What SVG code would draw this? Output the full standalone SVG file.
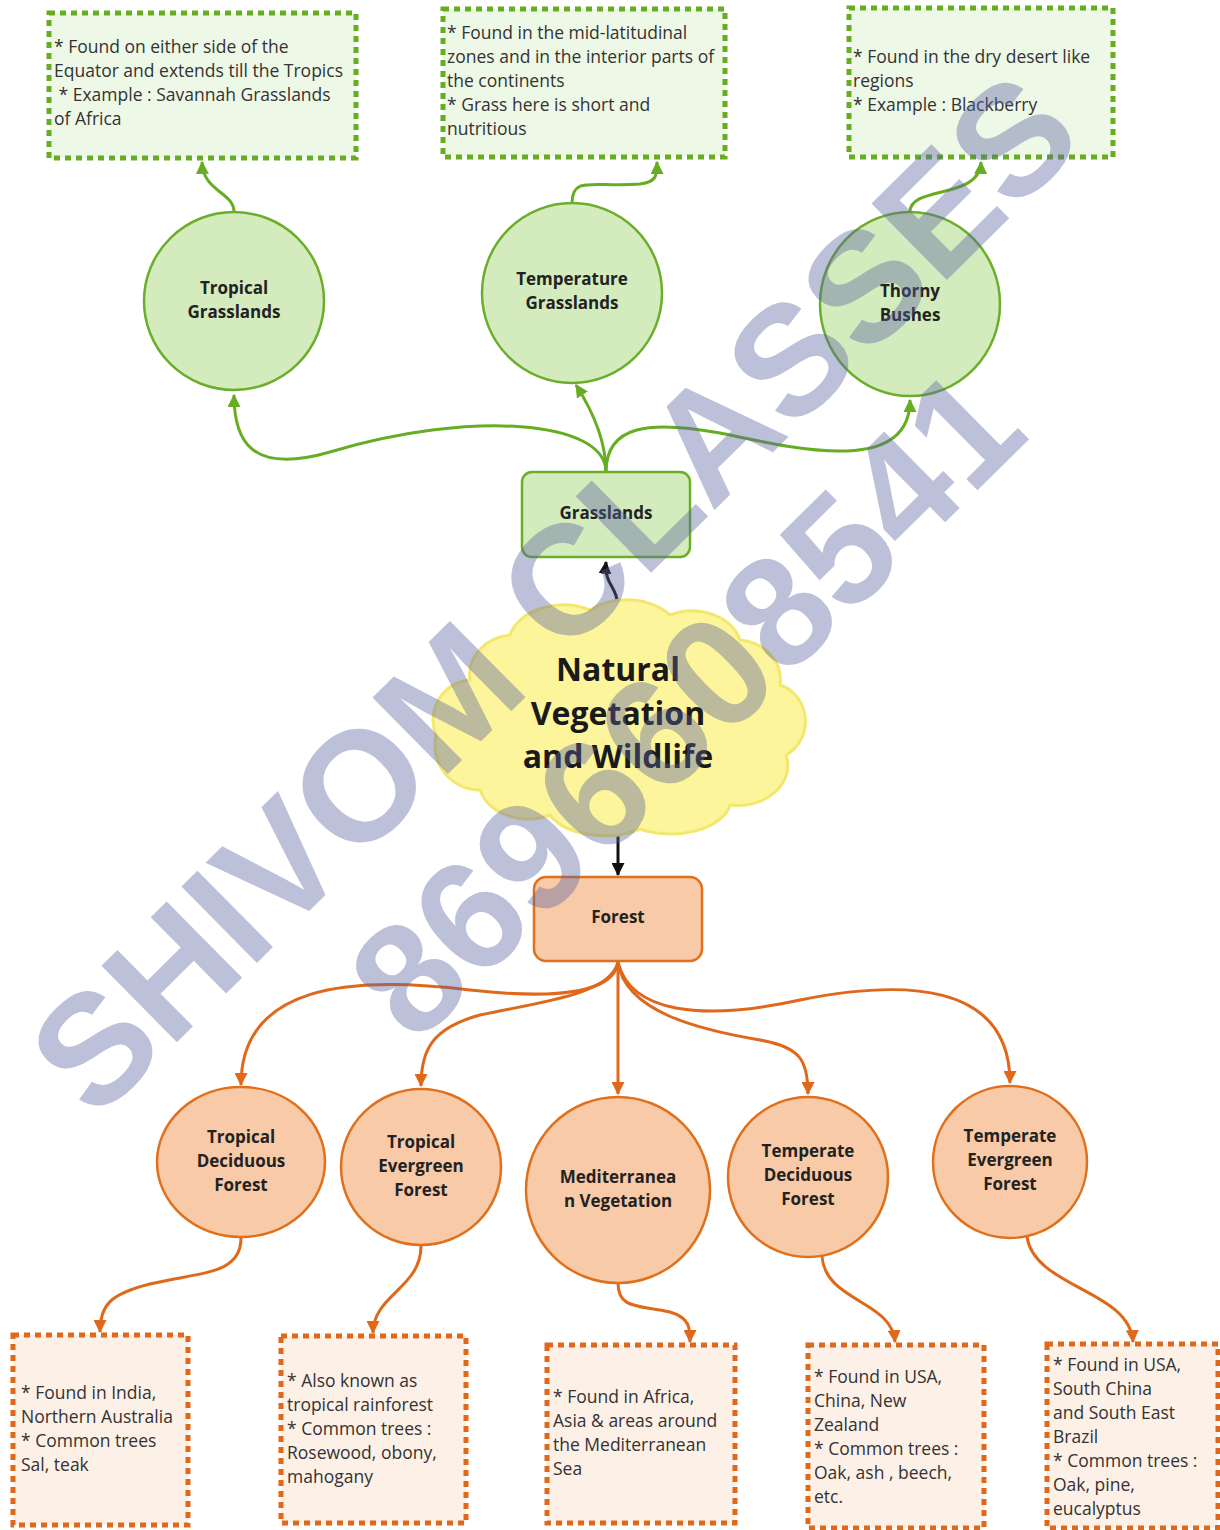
<svg xmlns="http://www.w3.org/2000/svg" width="1220" height="1530" viewBox="0 0 1220 1530">
<defs>
<style>
.t{font-family:"Open Sans","Liberation Sans",sans-serif;font-size:17.5px;fill:#333;}
.b{font-family:"Open Sans","Liberation Sans",sans-serif;font-size:17px;font-weight:bold;fill:#222;text-anchor:middle;}
.gbox{fill:#eef8e6;stroke:#66ad22;stroke-width:5;stroke-dasharray:6 5;}
.obox{fill:#fdf0e6;stroke:#e0681a;stroke-width:5;stroke-dasharray:6 5;}
.gc{fill:#d4ebbd;stroke:#6aae2a;stroke-width:2.5;}
.oc{fill:#f8caa8;stroke:#e0701c;stroke-width:2.5;}
.gl{fill:none;stroke:#66ad22;stroke-width:3;}
.ol{fill:none;stroke:#e0681a;stroke-width:3;}
.kl{fill:none;stroke:#111;stroke-width:3;}
</style>
<marker id="ag" viewBox="0 0 12 12" refX="11" refY="6" markerWidth="13" markerHeight="13" markerUnits="userSpaceOnUse" orient="auto"><path d="M0,0 L12,6 L0,12 Z" fill="#66ad22"/></marker>
<marker id="ao" viewBox="0 0 12 12" refX="11" refY="6" markerWidth="13" markerHeight="13" markerUnits="userSpaceOnUse" orient="auto"><path d="M0,0 L12,6 L0,12 Z" fill="#e0681a"/></marker>
<marker id="ak" viewBox="0 0 12 12" refX="11" refY="6" markerWidth="13" markerHeight="13" markerUnits="userSpaceOnUse" orient="auto"><path d="M0,0 L12,6 L0,12 Z" fill="#111"/></marker>
</defs>
<rect width="1220" height="1530" fill="#fff"/>

<g id="connectors">
<path class="gl" marker-end="url(#ag)" d="M606,472 C606,420 470,410 330,452 C250,475 234,440 234,395"/>
<path class="gl" marker-end="url(#ag)" d="M606,472 C606,440 592,410 576,385"/>
<path class="gl" marker-end="url(#ag)" d="M606,472 C606,425 650,420 720,433 C800,450 910,475 910,400"/>
<path class="gl" marker-end="url(#ag)" d="M234,212 C234,192 203,192 202,162"/>
<path class="gl" marker-end="url(#ag)" d="M572,203 C572,175 595,188 640,184 C657,182 657,175 657,162"/>
<path class="gl" marker-end="url(#ag)" d="M910,212 C910,185 980,200 981,162"/>
<path class="kl" marker-end="url(#ak)" d="M617,603 C618,588 604,585 606,562"/>
<path class="kl" marker-end="url(#ak)" d="M618,832 L618,875"/>
<path class="ol" marker-end="url(#ao)" d="M618,962 C614,992 560,1000 470,990 C350,975 241,985 241,1085"/>
<path class="ol" marker-end="url(#ao)" d="M618,962 C610,995 540,1002 480,1015 C432,1028 421,1050 421,1086"/>
<path class="ol" marker-end="url(#ao)" d="M618,962 L618,1094"/>
<path class="ol" marker-end="url(#ao)" d="M618,962 C625,1012 700,1030 760,1040 C800,1047 808,1060 808,1094"/>
<path class="ol" marker-end="url(#ao)" d="M618,962 C630,1012 700,1022 800,1000 C900,980 1010,980 1010,1083"/>
<path class="ol" marker-end="url(#ao)" d="M241,1238 C241,1275 200,1272 150,1284 C110,1294 100,1305 100,1332"/>
<path class="ol" marker-end="url(#ao)" d="M421,1246 C421,1288 373,1295 373,1333"/>
<path class="ol" marker-end="url(#ao)" d="M618,1283 C618,1310 640,1305 670,1312 C690,1318 690,1328 690,1342"/>
<path class="ol" marker-end="url(#ao)" d="M822,1256 C825,1302 892,1300 895,1342"/>
<path class="ol" marker-end="url(#ao)" d="M1027,1237 C1035,1288 1130,1290 1133,1342"/>
</g>

<g id="box-tropical-grasslands">
<rect class="gbox" x="49" y="13" width="307" height="145"/>
<text class="t"><tspan x="54" y="53">* Found on either side of the</tspan><tspan x="54" y="77">Equator and extends till the Tropics</tspan><tspan x="54" y="101"> * Example : Savannah Grasslands</tspan><tspan x="54" y="125">of Africa</tspan></text>
</g>
<g id="box-temperature-grasslands">
<rect class="gbox" x="443" y="9" width="282" height="148"/>
<text class="t"><tspan x="447" y="39">* Found in the mid-latitudinal</tspan><tspan x="447" y="63">zones and in the interior parts of</tspan><tspan x="447" y="87">the continents</tspan><tspan x="447" y="111">* Grass here is short and</tspan><tspan x="447" y="135">nutritious</tspan></text>
</g>
<g id="box-thorny-bushes">
<rect class="gbox" x="849" y="8" width="264" height="149"/>
<text class="t"><tspan x="853" y="63">* Found in the dry desert like</tspan><tspan x="853" y="87">regions</tspan><tspan x="853" y="111">* Example : Blackberry</tspan></text>
</g>

<g id="tropical-grasslands">
<ellipse class="gc" cx="234" cy="301" rx="90" ry="89"/>
<text class="b"><tspan x="234" y="294">Tropical</tspan><tspan x="234" y="318">Grasslands</tspan></text>
</g>
<g id="temperature-grasslands">
<ellipse class="gc" cx="572" cy="293" rx="90" ry="90"/>
<text class="b"><tspan x="572" y="285">Temperature</tspan><tspan x="572" y="309">Grasslands</tspan></text>
</g>
<g id="thorny-bushes">
<ellipse class="gc" cx="910" cy="304" rx="90" ry="92"/>
<text class="b"><tspan x="910" y="297">Thorny</tspan><tspan x="910" y="321">Bushes</tspan></text>
</g>

<g id="grasslands">
<rect class="gc" x="522" y="472" width="168" height="85" rx="10"/>
<text class="b" x="606" y="519">Grasslands</text>
</g>

<g id="natural-vegetation">
<path fill="#fdf59c" stroke="#f3e86e" stroke-width="3" d="M470,680 A45,40 0 0 1 510,635 A55,40 0 0 1 590,610 A55,40 0 0 1 670,615 A50,40 0 0 1 740,640 A45,40 0 0 1 780,685 A36,38 0 0 1 786,755 A50,40 0 0 1 730,805 A60,35 0 0 1 640,829 A60,35 0 0 1 550,815 A50,40 0 0 1 480,790 A45,45 0 0 1 436,735 A40,40 0 0 1 470,680 Z"/>
<text class="b" style="font-size:32px;fill:#1a1a1a"><tspan x="618" y="681">Natural</tspan><tspan x="618" y="725">Vegetation</tspan><tspan x="618" y="768">and Wildlife</tspan></text>
</g>

<g id="forest">
<rect class="oc" x="534" y="877" width="168" height="84" rx="12"/>
<text class="b" x="618" y="923">Forest</text>
</g>

<g id="tropical-deciduous">
<ellipse class="oc" cx="241" cy="1162" rx="84" ry="75"/>
<text class="b"><tspan x="241" y="1143">Tropical</tspan><tspan x="241" y="1167">Deciduous</tspan><tspan x="241" y="1191">Forest</tspan></text>
</g>
<g id="tropical-evergreen">
<ellipse class="oc" cx="421" cy="1167" rx="80" ry="78"/>
<text class="b"><tspan x="421" y="1148">Tropical</tspan><tspan x="421" y="1172">Evergreen</tspan><tspan x="421" y="1196">Forest</tspan></text>
</g>
<g id="mediterranean">
<ellipse class="oc" cx="618" cy="1190" rx="92" ry="93"/>
<text class="b"><tspan x="618" y="1183">Mediterranea</tspan><tspan x="618" y="1207">n Vegetation</tspan></text>
</g>
<g id="temperate-deciduous">
<ellipse class="oc" cx="808" cy="1177" rx="80" ry="80"/>
<text class="b"><tspan x="808" y="1157">Temperate</tspan><tspan x="808" y="1181">Deciduous</tspan><tspan x="808" y="1205">Forest</tspan></text>
</g>
<g id="temperate-evergreen">
<ellipse class="oc" cx="1010" cy="1162" rx="77" ry="76"/>
<text class="b"><tspan x="1010" y="1142">Temperate</tspan><tspan x="1010" y="1166">Evergreen</tspan><tspan x="1010" y="1190">Forest</tspan></text>
</g>

<g id="box-tropical-deciduous">
<rect class="obox" x="13" y="1335" width="175" height="190"/>
<text class="t"><tspan x="21" y="1399">* Found in India,</tspan><tspan x="21" y="1423">Northern Australia</tspan><tspan x="21" y="1447">* Common trees</tspan><tspan x="21" y="1471">Sal, teak</tspan></text>
</g>
<g id="box-tropical-evergreen">
<rect class="obox" x="281" y="1336" width="185" height="187"/>
<text class="t"><tspan x="287" y="1387">* Also known as</tspan><tspan x="287" y="1411">tropical rainforest</tspan><tspan x="287" y="1435">* Common trees :</tspan><tspan x="287" y="1459">Rosewood, obony,</tspan><tspan x="287" y="1483">mahogany</tspan></text>
</g>
<g id="box-mediterranean">
<rect class="obox" x="547" y="1345" width="188" height="178"/>
<text class="t"><tspan x="553" y="1403">* Found in Africa,</tspan><tspan x="553" y="1427">Asia &amp; areas around</tspan><tspan x="553" y="1451">the Mediterranean</tspan><tspan x="553" y="1475">Sea</tspan></text>
</g>
<g id="box-temperate-deciduous">
<rect class="obox" x="808" y="1345" width="176" height="183"/>
<text class="t"><tspan x="814" y="1383">* Found in USA,</tspan><tspan x="814" y="1407">China, New</tspan><tspan x="814" y="1431">Zealand</tspan><tspan x="814" y="1455">* Common trees :</tspan><tspan x="814" y="1479">Oak, ash , beech,</tspan><tspan x="814" y="1503">etc.</tspan></text>
</g>
<g id="box-temperate-evergreen">
<rect class="obox" x="1047" y="1344" width="171" height="184"/>
<text class="t"><tspan x="1053" y="1371">* Found in USA,</tspan><tspan x="1053" y="1395">South China</tspan><tspan x="1053" y="1419">and South East</tspan><tspan x="1053" y="1443">Brazil</tspan><tspan x="1053" y="1467">* Common trees :</tspan><tspan x="1053" y="1491">Oak, pine,</tspan><tspan x="1053" y="1515">eucalyptus</tspan></text>
</g>

<g id="watermark" transform="translate(552,592) rotate(-44.7)" fill="#5a62a0" fill-opacity="0.4" font-family="'Liberation Sans',Arial,sans-serif" font-weight="bold" font-size="156" text-anchor="middle">
<text x="0" y="56">SHIVOM CLASSES</text>
<text x="17" y="227">8696608541</text>
</g>
</svg>
